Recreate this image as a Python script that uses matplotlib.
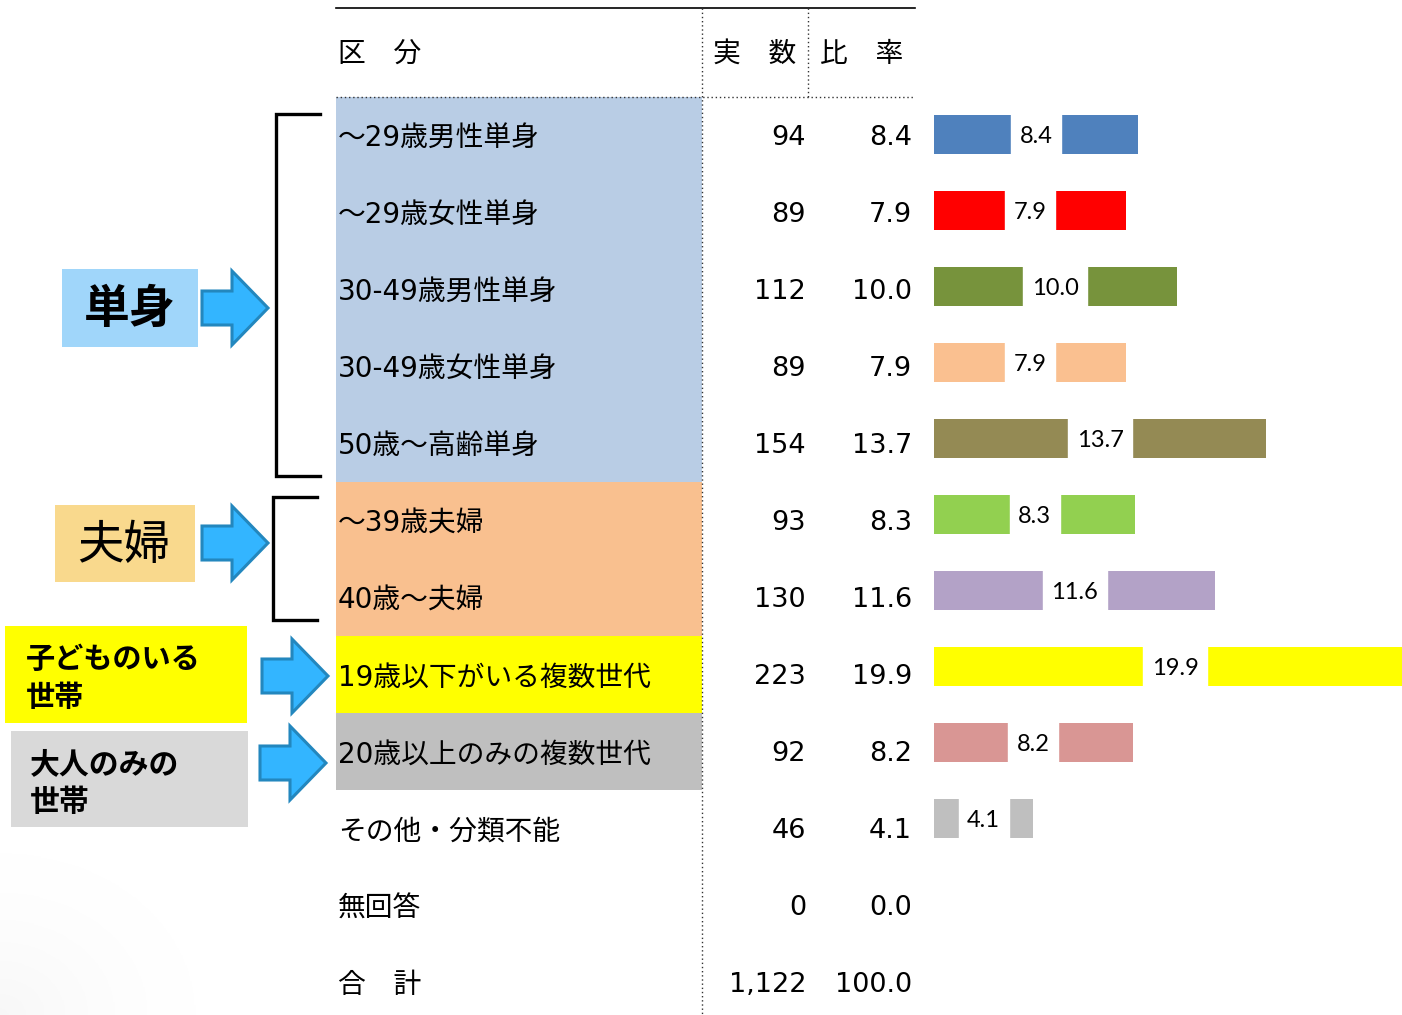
import matplotlib
matplotlib.use("Agg")
import matplotlib.pyplot as plt
from matplotlib.patches import Rectangle, Polygon
import numpy as np

plt.rcParams['font.family'] = ['Noto Sans CJK JP', 'DejaVu Sans']
TABLE_FONT = ['DejaVu Sans', 'Noto Sans CJK JP']

# ---- data ----
categories = ["～29歳男性単身", "～29歳女性単身", "30-49歳男性単身", "30-49歳女性単身",
              "50歳～高齢単身", "～39歳夫婦", "40歳～夫婦", "19歳以下がいる複数世代",
              "20歳以上のみの複数世代", "その他・分類不能", "無回答", "合　計"]
counts = [94, 89, 112, 89, 154, 93, 130, 223, 92, 46, 0, 1122]
ratios = [8.4, 7.9, 10.0, 7.9, 13.7, 8.3, 11.6, 19.9, 8.2, 4.1, 0.0, 100.0]
bar_colors = ["#4F81BD", "#FF0000", "#77933C", "#FAC090", "#948A54", "#92D050",
              "#B3A2C7", "#FFFF00", "#D99694", "#BFBFBF"]
row_bg = ["#B9CDE5"] * 5 + ["#F9C08F"] * 2 + ["#FFFF00", "#BFBFBF"] + [None] * 3
headers = ["区　分", "実　数", "比　率"]

W, H = 1402, 1015
fig = plt.figure(figsize=(W / 100, H / 100), dpi=100)

ROW0, ROWH = 135.5, 77.0
def py(p):
    return (p - ROW0) / ROWH
ylim = (py(H), py(0))

ax = fig.add_axes([0, 0, 1, 1])
ax.set_xlim(0, W)
ax.set_ylim(*ylim)
ax.axis('off')

# subtle shadow in bottom-left corner
gx, gy = np.meshgrid(np.linspace(0, 1, 200), np.linspace(0, 1, 200))
grad = np.clip(1 - np.hypot(gx, 1 - gy) * 1.0, 0, 1) ** 2
ax.imshow(grad, extent=(0, 260, py(1015), py(800)), cmap='Greys', vmin=0, vmax=16,
          aspect='auto', zorder=0, origin='upper')

# row background fills
rows = np.arange(len(categories))
for i, c in zip(rows, row_bg):
    if c:
        ax.barh(i, 702 - 336, left=336, height=1.0, color=c, zorder=1)

# table lines
ax.plot([336, 915], [py(8), py(8)], color='black', lw=1.2, zorder=3)
ax.plot([336, 915], [py(97), py(97)], color='#333333', lw=1, ls=(0, (1, 2)), zorder=3)
ax.plot([702, 702], [py(8), py(1015)], color='#333333', lw=1, ls=(0, (1, 2)), zorder=3)
ax.plot([808, 808], [py(8), py(97)], color='#333333', lw=1, ls=(0, (1, 2)), zorder=3)

# header
hy = py(54)
ax.text(338, hy, headers[0], ha='left', va='center', fontsize=20, zorder=4)
ax.text(713, hy, headers[1], ha='left', va='center', fontsize=20, zorder=4)
ax.text(820, hy, headers[2], ha='left', va='center', fontsize=20, zorder=4)

# table content
DY = 0.035
for i, cat, n, r in zip(rows, categories, counts, ratios):
    ax.text(338, i + DY, cat, ha='left', va='center', fontsize=20, family=TABLE_FONT, zorder=4)
    ax.text(806, i + DY, f"{n:,}", ha='right', va='center', fontsize=19.5, family=TABLE_FONT, zorder=4)
    ax.text(912, i + DY, f"{r:.1f}", ha='right', va='center', fontsize=19.5, family=TABLE_FONT, zorder=4)

# brackets
ax.plot([320, 275.5, 275.5, 320], [py(114), py(114), py(476), py(476)],
        color='black', lw=2.4, solid_joinstyle='miter', zorder=3)
ax.plot([317, 272.5, 272.5, 317], [py(497), py(497), py(620), py(620)],
        color='black', lw=2.4, solid_joinstyle='miter', zorder=3)

# arrows
def arrow(x0, xh, x1, yc, hh, bh):
    pts = [(x0, py(yc - bh)), (xh, py(yc - bh)), (xh, py(yc - hh)), (x1, py(yc)),
           (xh, py(yc + hh)), (xh, py(yc + bh)), (x0, py(yc + bh))]
    ax.add_patch(Polygon(pts, closed=True, facecolor='#33B5FF', edgecolor='#2387BE',
                         lw=2.2, zorder=3, joinstyle='miter'))

arrow(202, 232, 268, 308, 37, 17)
arrow(202, 232, 268, 543, 37, 17)
arrow(262, 292, 328, 676, 37, 17)
arrow(260, 290, 326, 763, 37, 17)

# label boxes
def box(x0, y0, x1, y1, color):
    ax.add_patch(Rectangle((x0, py(y0)), x1 - x0, py(y1) - py(y0), facecolor=color,
                           edgecolor='none', zorder=2))

box(62, 269, 198, 347, '#A0D6FA')
ax.text(130, py(310), "単身", ha='center', va='center', fontsize=33, fontweight='bold', zorder=4)
box(55, 505, 195, 582, '#F9D98D')
ax.text(124, py(546), "夫婦", ha='center', va='center', fontsize=33.5, zorder=4)
box(5, 626, 247, 723, '#FFFF00')
ax.text(26, py(678), "子どものいる\n世帯", ha='left', va='center', fontsize=21,
        fontweight='bold', linespacing=1.35, zorder=4)
box(11, 731, 248, 827, '#D9D9D9')
ax.text(30, py(783), "大人のみの\n世帯", ha='left', va='center', fontsize=21.5,
        fontweight='bold', linespacing=1.35, zorder=4)

# ---- bars ----
PX_PER_UNIT = 24.25
BAR0, BARH = 134.0, 76.06
bx = fig.add_axes([934 / W, 0, (W - 934) / W, 1])
bx.set_xlim(0, (W - 934) / PX_PER_UNIT)
bx.set_ylim((H - BAR0) / BARH, -BAR0 / BARH)
bx.axis('off')
nb = len(bar_colors)
bx.barh(rows[:nb], ratios[:nb], height=39 / BARH, color=bar_colors, zorder=1)
for i, r in zip(rows[:nb], ratios[:nb]):
    bx.text(r / 2, i + 0.03, f"{r:.1f}", ha='center', va='center', fontsize=17,
            family=['Lato', 'DejaVu Sans'], zorder=3,
            bbox=dict(boxstyle='square,pad=0.36', facecolor='white', edgecolor='white',
                      lw=1, mutation_aspect=2.4))

fig.savefig("out.png", dpi=100)
